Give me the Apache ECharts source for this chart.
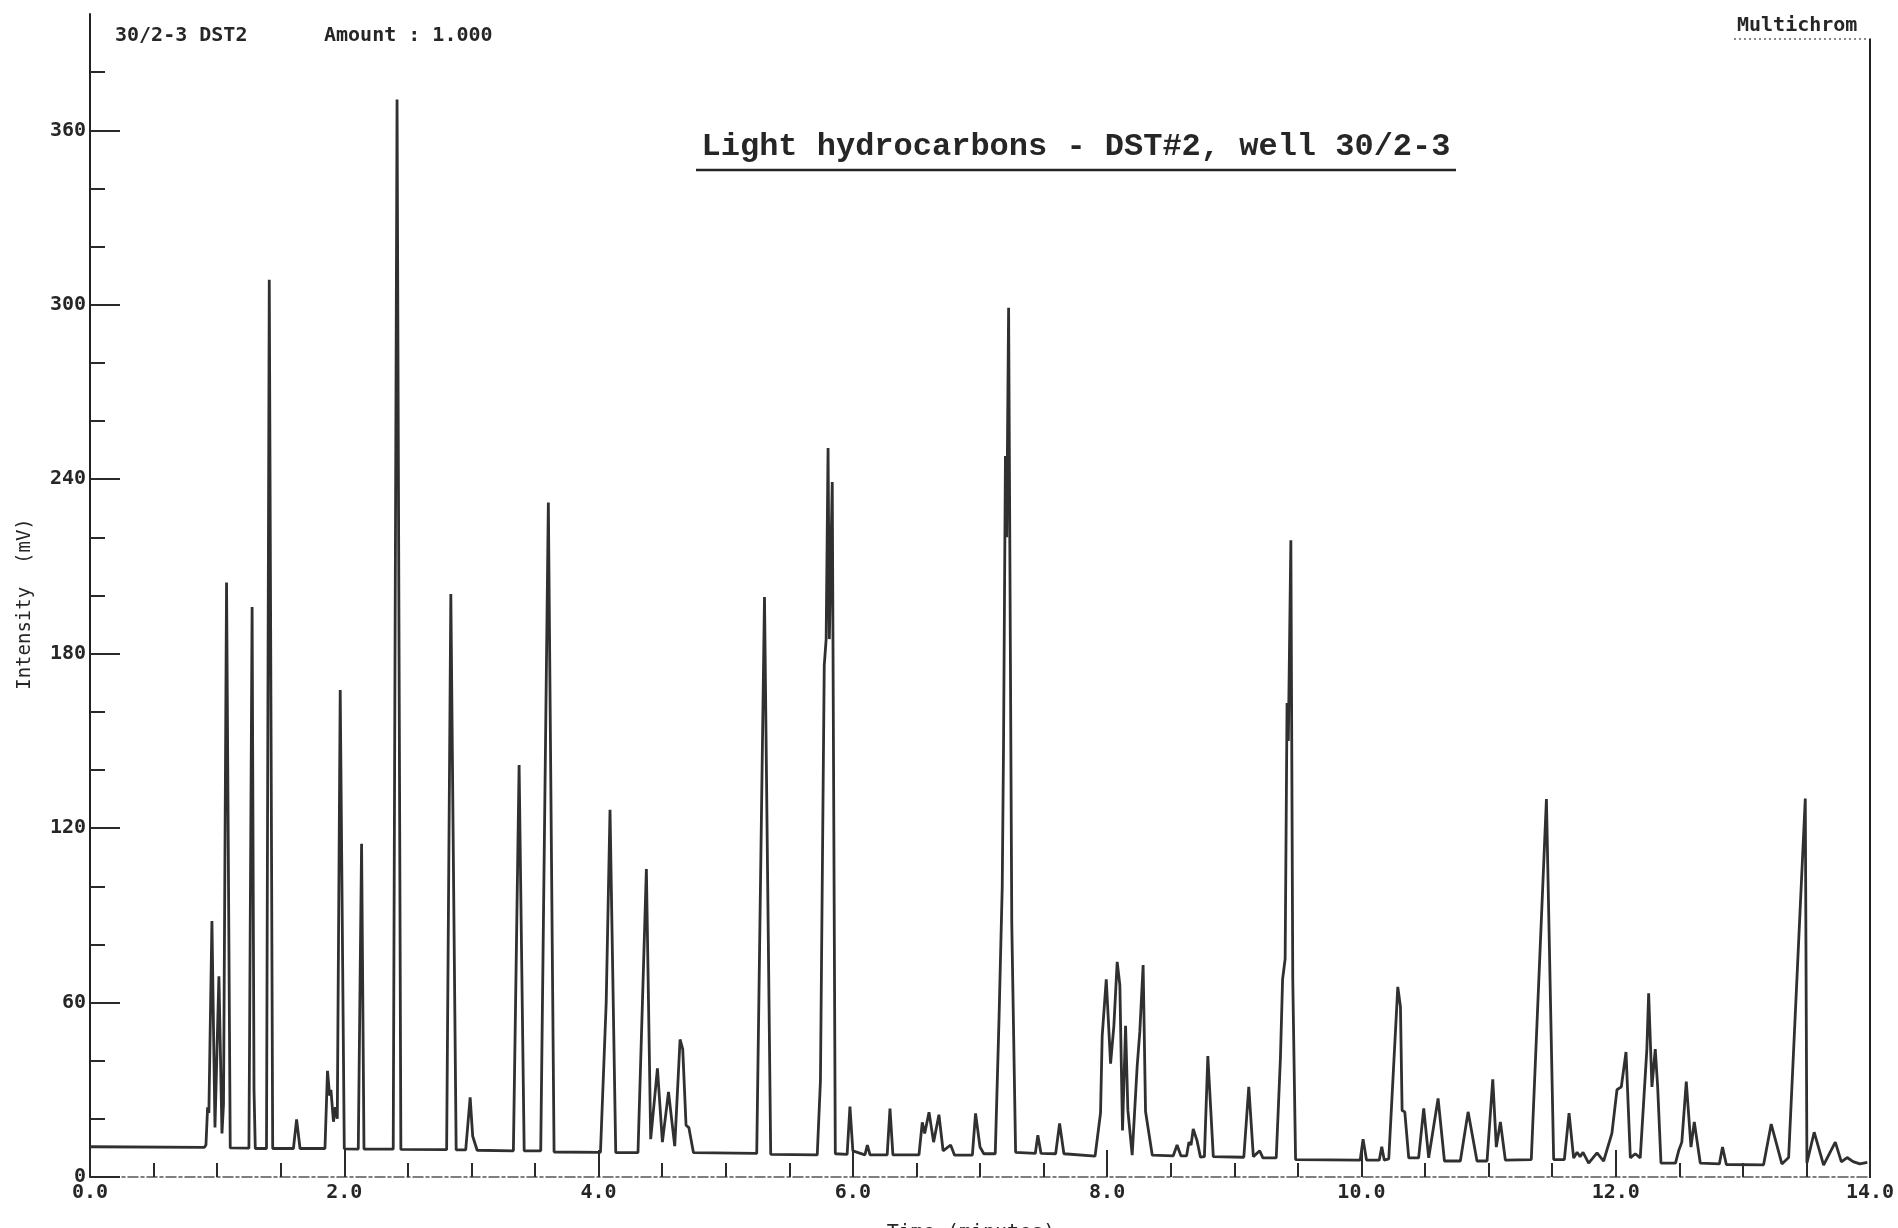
<!DOCTYPE html>
<html>
<head>
<meta charset="utf-8">
<title>Light hydrocarbons - DST#2, well 30/2-3</title>
<script src="https://cdn.jsdelivr.net/npm/echarts@6/dist/echarts.min.js"></script>
<style>
  html, body { margin: 0; padding: 0; background: #fff; }
  #chart { width: 1898px; height: 1228px; }
</style>
</head>
<body>
<div id="chart"></div>
<script>
// chromatogram trace: retention time (min) / signal (mV)
var timeMin = [
  0.00, 0.90, 0.912, 0.925, 0.935, 0.959, 0.983, 1.014, 1.038, 1.05, 1.074, 1.103,
  1.25, 1.275, 1.29, 1.30, 1.388, 1.41, 1.437, 1.60, 1.625, 1.652,
  1.848, 1.868, 1.885, 1.895, 1.915, 1.93, 1.945, 1.968, 2.0,
  2.11, 2.136, 2.155, 2.385, 2.415, 2.445, 2.805, 2.838, 2.88,
  2.955, 2.99, 3.01, 3.045, 3.33, 3.375, 3.415, 3.545, 3.605, 3.65,
  4.015, 4.06, 4.09, 4.135, 4.31, 4.376, 4.41, 4.463, 4.502, 4.55, 4.599,
  4.641, 4.662, 4.688, 4.71, 4.746, 5.244, 5.305, 5.354,
  5.72, 5.745, 5.775, 5.79, 5.805, 5.815, 5.838, 5.862,
  5.955, 5.977, 6.0, 6.095, 6.114, 6.135, 6.27, 6.292, 6.315,
  6.52, 6.546, 6.565, 6.599, 6.635, 6.677, 6.71, 6.769, 6.80, 6.94, 6.965, 7.0, 7.03,
  7.12, 7.15, 7.175, 7.185, 7.20, 7.21, 7.225, 7.25, 7.28,
  7.435, 7.455, 7.48, 7.595, 7.626, 7.66,
  7.905, 7.948, 7.961, 7.993, 8.027, 8.053, 8.079, 8.10, 8.121, 8.145, 8.163,
  8.197, 8.236, 8.257, 8.283, 8.302, 8.355,
  8.52, 8.55, 8.58, 8.625, 8.643, 8.66, 8.677, 8.707, 8.734,
  8.765, 8.792, 8.835, 9.075, 9.114, 9.15, 9.20, 9.225,
  9.33, 9.363, 9.38, 9.40, 9.415, 9.425, 9.445, 9.46, 9.482,
  9.99, 10.013, 10.04, 10.14, 10.16, 10.18,
  10.215, 10.286, 10.307, 10.32, 10.341, 10.372, 10.45, 10.49, 10.529, 10.603, 10.653,
  10.778, 10.839, 10.909, 10.988, 11.033, 11.061, 11.093, 11.132,
  11.336, 11.455, 11.512, 11.596, 11.633, 11.669, 11.696, 11.72, 11.743, 11.787, 11.853, 11.905,
  11.97, 12.01, 12.044, 12.081, 12.115, 12.154, 12.193, 12.245, 12.259, 12.285, 12.311, 12.33, 12.356,
  12.47, 12.495, 12.52, 12.555, 12.592, 12.618, 12.665, 12.815, 12.84, 12.87,
  13.163, 13.223, 13.307, 13.36, 13.491, 13.504, 13.561, 13.635, 13.727, 13.775,
  13.82, 13.867, 13.92, 13.979
];
var intensityMv = [
  10.4, 10.2, 11, 24, 22, 88, 17, 69, 15, 25, 204.5, 10,
  9.9, 196, 30, 9.8, 9.8, 308.6, 9.8, 9.8, 19.8, 9.8,
  9.8, 36.5, 28, 30, 19, 24, 20, 167.5, 9.7,
  9.6, 114.6, 9.6, 9.6, 370.6, 9.5, 9.4, 200.5, 9.3,
  9.3, 27.4, 14, 9.2, 9.0, 141.7, 9.0, 9.0, 232, 8.6,
  8.5, 60, 126.3, 8.4, 8.4, 105.9, 13, 37.4, 12, 29.3, 10.6,
  47.3, 44, 17.8, 17, 8.4, 8.1, 199.5, 7.8,
  7.6, 33, 176, 185, 250.7, 185, 239, 8,
  7.8, 24.2, 9, 7.6, 11, 7.6, 7.6, 23.5, 7.6,
  7.6, 18.8, 15, 22.3, 12, 21.4, 9, 11, 7.5, 7.5, 21.9, 10.3, 8,
  8, 55, 100, 148, 248, 220, 299, 87, 8.5,
  8.1, 14.4, 8.1, 8, 18.4, 8,
  7.2, 22, 48.5, 68, 39, 52, 74, 66, 16, 52, 23,
  7.5, 38, 50, 72.9, 22.5, 7.5,
  7.3, 11, 7.3, 7.3, 12, 11, 16.5, 12.5, 6.8,
  7, 41.6, 7, 6.8, 31, 7, 9, 6.6,
  6.6, 41, 68, 75, 163, 150, 219, 68, 6,
  5.8, 13, 5.8, 5.8, 10.4, 5.8,
  6.2, 65.4, 58.5, 22.9, 22.4, 6.6, 6.6, 23.6, 6.6, 27, 5.5,
  5.5, 22.4, 5.5, 5.5, 33.6, 10.3, 18.9, 5.8,
  6, 130, 6, 6, 22, 6.5, 8.5, 7, 8.5, 4.8, 8.3, 5.5,
  15, 30, 31, 43, 6.6, 8, 6.6, 44, 63.2, 31, 44, 31, 4.8,
  4.8, 9, 12, 32.8, 10.3, 18.9, 4.8, 4.5, 10.3, 4.3,
  4.2, 18.2, 4.5, 6.7, 130.2, 4.8, 15.4, 4.1, 12, 5.2,
  6.7, 5.3, 4.5, 5
];
var yTickValues = [0, 60, 120, 180, 240, 300, 360];

var monoFont = 'DejaVu Sans Mono';
var ink = '#262626';

var trace = timeMin.map(function (t, i) { return [t, intensityMv[i]]; });

var myChart = echarts.init(document.getElementById('chart'));
var option = {
  backgroundColor: '#ffffff',
  animation: false,
  grid: { left: 90, right: 28, top: 14, bottom: 51 },
  xAxis: {
    type: 'value',
    min: 0,
    max: 14,
    interval: 2,
    axisLine: { show: true, onZero: false, lineStyle: { color: '#555', width: 1.5, type: [10, 3, 3, 3] } },
    axisTick: { show: true, inside: true, length: 27, lineStyle: { color: '#2a2a2a', width: 2 } },
    minorTick: { show: true, splitNumber: 4, length: 14, lineStyle: { color: '#2a2a2a', width: 2 } },
    axisLabel: {
      margin: 6,
      fontFamily: monoFont,
      fontSize: 20,
      fontWeight: 'bold',
      color: ink,
      formatter: function (v) { return v.toFixed(1); }
    },
    splitLine: { show: false }
  },
  yAxis: {
    type: 'value',
    min: 0,
    max: 400,
    interval: 60,
    axisLine: { show: true, lineStyle: { color: '#222', width: 2 } },
    axisTick: { show: true, inside: true, length: 30, customValues: yTickValues, lineStyle: { color: '#2a2a2a', width: 2 } },
    minorTick: { show: true, splitNumber: 3, length: 15, lineStyle: { color: '#2a2a2a', width: 2 } },
    axisLabel: { customValues: yTickValues, margin: 4, fontFamily: monoFont, fontSize: 20, fontWeight: 'bold', color: ink },
    splitLine: { show: false }
  },
  series: [{
    type: 'line',
    data: trace,
    showSymbol: false,
    symbol: 'none',
    lineStyle: { color: '#303030', width: 2.8 }
  }],
  graphic: [
    { type: 'text', x: 115, y: 36, style: { text: '30/2-3 DST2', font: 'bold 20px ' + monoFont, fill: ink, verticalAlign: 'middle', textVerticalAlign: 'middle' } },
    { type: 'text', x: 324, y: 36, style: { text: 'Amount : 1.000', font: 'bold 20px ' + monoFont, fill: ink, verticalAlign: 'middle', textVerticalAlign: 'middle' } },
    { type: 'text', x: 1737, y: 26, style: { text: 'Multichrom', font: 'bold 20px ' + monoFont, fill: ink, verticalAlign: 'middle', textVerticalAlign: 'middle' } },
    { type: 'line', shape: { x1: 1734, y1: 39, x2: 1871, y2: 39 }, style: { stroke: '#666', lineWidth: 1.5, lineDash: [2, 3] } },
    { type: 'line', shape: { x1: 1870, y1: 39, x2: 1870, y2: 1178 }, style: { stroke: '#222', lineWidth: 2 } },
    { type: 'text', x: 1076, y: 147, style: {
        text: 'Light hydrocarbons - DST#2, well 30/2-3', font: 'bold 32px Liberation Mono', fill: ink,
        align: 'center', textAlign: 'center', verticalAlign: 'middle', textVerticalAlign: 'middle' } },
    { type: 'line', shape: { x1: 696, y1: 170, x2: 1456, y2: 170 }, style: { stroke: ink, lineWidth: 2.5 } },
    { type: 'text', x: 25, y: 604, rotation: Math.PI / 2, style: {
        text: 'Intensity  (mV)', font: '19px ' + monoFont, fill: ink,
        align: 'center', textAlign: 'center', verticalAlign: 'middle', textVerticalAlign: 'middle' } },
    { type: 'text', x: 971, y: 1223, style: {
        text: 'Time (minutes)', font: '20px ' + monoFont, fill: ink,
        align: 'center', textAlign: 'center', verticalAlign: 'top', textVerticalAlign: 'top' } }
  ]
};
myChart.setOption(option);
</script>
</body>
</html>
